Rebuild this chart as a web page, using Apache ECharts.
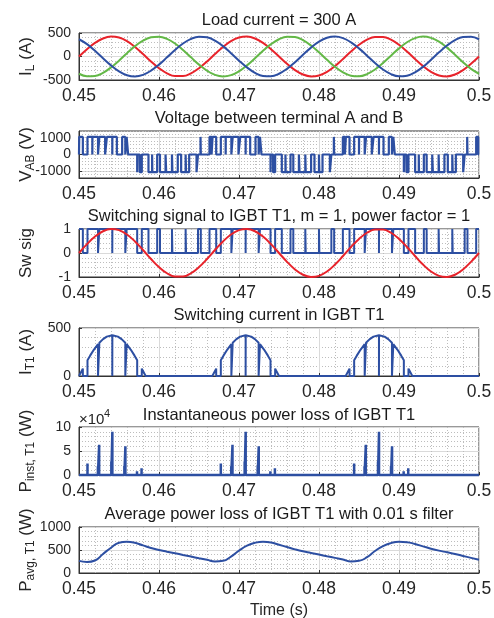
<!DOCTYPE html>
<html><head><meta charset="utf-8">
<script src="https://cdn.jsdelivr.net/npm/echarts@6/dist/echarts.min.js"></script>
<style>html,body{margin:0;padding:0;background:#fff}#c{width:494px;height:618px}</style>
</head><body><div id="c"></div>
<script>
// ---------------- data ----------------
const tStart = 0.45, tEnd = 0.5, sampleStep = 0.001, xInterval = 0.01;

// load currents (A), sampled every 1 ms from 0.45 s
const iA = [0,156,290,384,423,403,327,204,53,-106,-249,-358,-416,-416,-358,-249,-106,53,204,327,403,423,384,290,156,0,-156,-290,-384,-423,-403,-327,-204,-53,106,249,358,416,416,358,249,106,-53,-204,-327,-403,-423,-384,-290,-156,0];
const iB = [-367,-419,-413,-348,-234,-88,71,220,338,408,422,376,277,139,-18,-173,-303,-391,-424,-397,-315,-189,-36,123,263,367,419,413,348,234,88,-71,-220,-338,-408,-422,-376,-277,-139,18,173,303,391,424,397,315,189,36,-123,-263,-367];
const iC = [367,263,123,-36,-189,-315,-398,-424,-391,-302,-173,-18,139,277,376,422,409,338,220,70,-88,-234,-348,-413,-419,-367,-263,-123,36,189,315,398,424,391,302,173,18,-139,-277,-376,-422,-409,-338,-220,-70,88,234,348,413,419,367];

// reference sine of switching plot (same sampling)
const swRef = [0,0.368,0.685,0.905,0.998,0.951,0.771,0.482,0.125,-0.249,-0.588,-0.844,-0.982,-0.982,-0.844,-0.588,-0.249,0.125,0.482,0.771,0.951,0.998,0.905,0.685,0.368,0,-0.368,-0.685,-0.905,-0.998,-0.951,-0.771,-0.482,-0.125,0.249,0.588,0.844,0.982,0.982,0.844,0.588,0.249,-0.125,-0.482,-0.771,-0.951,-0.998,-0.905,-0.685,-0.368,0];

// switching signal T1: starts at 1, toggles at each time
const swInitial = 1;
const swEdges = [0.450482,0.451061,0.452378,0.452545,0.454162,0.454172,0.455788,0.455956,0.457273,0.457851,0.458685,0.459773,0.460122,0.461621,0.461672,0.463328,0.463379,0.464878,0.465227,0.466315,
0.467149,0.467728,0.469045,0.469212,0.470829,0.470839,0.472455,0.472623,0.47394,0.474518,0.475352,0.47644,0.476789,0.478288,0.478339,0.479995,0.480046,0.481545,0.481894,0.482982,
0.483815,0.484394,0.485711,0.485878,0.487495,0.487505,0.489121,0.489289,0.490606,0.491184,0.492018,0.493106,0.493455,0.494954,0.495005,0.496661,0.496712,0.498211,0.49856,0.499648];

// V_AB: level (V) after each switching time
const vabInitial = 0;
const vabTimes = [0.450028,0.450482,0.451061,0.451666,0.451681,0.452378,0.452545,0.453266,0.453488,0.454162,0.454172,0.454732,0.455395,0.455788,0.455956,0.456142,0.457273,0.45731,0.457593,0.457851,0.458685,0.459139,0.459167,0.459773,0.460122,0.460819,0.4609,0.461621,0.461672,0.462345,0.462768,0.463328,0.463379,0.463772,0.464691,0.464878,0.46519,0.465227,0.466315,0.466574,
0.466695,0.467149,0.467728,0.468333,0.468348,0.469045,0.469212,0.469933,0.470155,0.470829,0.470839,0.471399,0.472062,0.472455,0.472623,0.472809,0.47394,0.473977,0.47426,0.474518,0.475352,0.475806,0.475834,0.47644,0.476789,0.477486,0.477567,0.478288,0.478339,0.479012,0.479435,0.479995,0.480046,0.480439,0.481358,0.481545,0.481857,0.481894,0.482982,0.483241,
0.483361,0.483815,0.484394,0.484999,0.485014,0.485711,0.485878,0.486599,0.486821,0.487495,0.487505,0.488065,0.488728,0.489121,0.489289,0.489475,0.490606,0.490643,0.490926,0.491184,0.492018,0.492472,0.4925,0.493106,0.493455,0.494152,0.494233,0.494954,0.495005,0.495678,0.496101,0.496661,0.496712,0.497105,0.498024,0.498211,0.498523,0.49856,0.499648,0.499907];
const vabLevels = [1050,0,1050,0,1050,0,1050,0,1050,0,1050,0,1050,0,1050,0,-1050,0,-1050,0,-1050,0,-1050,0,-1050,0,-1050,0,-1050,0,-1050,0,-1050,0,-1050,0,1050,0,1050,0,
1050,0,1050,0,1050,0,1050,0,1050,0,1050,0,1050,0,1050,0,-1050,0,-1050,0,-1050,0,-1050,0,-1050,0,-1050,0,-1050,0,-1050,0,-1050,0,-1050,0,1050,0,1050,0,
1050,0,1050,0,1050,0,1050,0,1050,0,1050,0,1050,0,1050,0,-1050,0,-1050,0,-1050,0,-1050,0,-1050,0,-1050,0,-1050,0,-1050,0,-1050,0,-1050,0,1050,0,1050,0];

// IGBT T1 current (A)
const itTimes = [0.45,0.450482,0.450482,0.451061,0.451061,0.451389,0.451852,0.452378,0.452378,0.452545,0.452545,0.453009,0.453472,0.454162,0.454162,0.454172,0.454172,0.454861,0.455324,0.455788,0.455788,0.455956,0.455956,0.456481,0.456944,0.457273,0.457273,0.457851,0.457851,0.458333,
0.466667,0.467149,0.467149,0.467728,0.467728,0.468056,0.468519,0.469045,0.469045,0.469212,0.469212,0.469676,0.470139,0.470829,0.470829,0.470839,0.470839,0.471528,0.471991,0.472455,0.472455,0.472623,0.472623,0.473148,0.473611,0.47394,0.47394,0.474518,0.474518,0.475,
0.483333,0.483815,0.483815,0.484394,0.484394,0.484722,0.485185,0.485711,0.485711,0.485878,0.485878,0.486342,0.486805,0.487495,0.487495,0.487505,0.487505,0.488194,0.488657,0.489121,0.489121,0.489289,0.489289,0.489814,0.490277,0.490606,0.490606,0.491184,0.491184,0.491666,
0.5];
const itVals = [0,77,0,0,165,212,273,331,0,0,347,384,410,424,0,0,424,410,384,347,0,0,331,273,212,165,0,0,77,0,
0,77,0,0,165,212,273,331,0,0,347,384,410,424,0,0,424,410,384,347,0,0,331,273,212,165,0,0,77,0,
0,77,0,0,165,212,273,331,0,0,347,384,410,424,0,0,424,410,384,347,0,0,331,273,212,165,0,0,77,0,
0];

// instantaneous loss spikes (x 1e4 W)
const spikeTimes = [0.45045,0.45106,0.45236,0.45252,0.45404,0.45417,0.45567,0.4558,0.45725,0.45782,
0.467117,0.467727,0.469027,0.469187,0.470707,0.470837,0.472337,0.472467,0.473917,0.474487,
0.483783,0.484393,0.485693,0.485853,0.487373,0.487503,0.489003,0.489133,0.490583,0.491153];
const spikeHeights = [0.35,2.4,1.8,6.3,2.8,9.0,1.9,6.0,0.8,1.4,
0.35,2.4,1.8,6.3,2.8,9.0,1.9,6.0,0.8,1.4,
0.35,2.4,1.8,6.3,2.8,9.0,1.9,6.0,0.8,1.4];

// average loss (W), every 1 ms
const pAvg = [264,240,271,414,550,657,680,657,600,543,500,464,429,393,357,321,286,250,264,357,486,593,657,680,664,614,564,514,471,436,400,364,329,293,250,264,343,479,586,650,679,671,629,579,529,486,450,414,371,329,286];

const titles = ["Load current = 300 A","Voltage between terminal A and B","Switching signal to IGBT T1, m = 1, power factor = 1","Switching current in IGBT T1","Instantaneous power loss of IGBT T1","Average power loss of IGBT T1 with 0.01 s filter"];
const yNames = ['{m|I}{s|L}{m| (A)}','{m|V}{s|AB}{m| (V)}','{m|Sw sig}','{m|I}{s|T1}{m| (A)}','{m|P}{s|inst, T1}{m| (W)}','{m|P}{s|avg, T1}{m| (W)}'];
const yRanges = [[-500,500,500],[-1400,1400,null],[-1,1,1],[0,500,500],[0,10,5],[0,1000,500]];
const vabTicks = [-1000,0,1000];

// ---------------- build ----------------
const F = '"Liberation Sans", Arial, Helvetica, sans-serif';
const TXT = '#262626', MAJ = '#dadada', MIN = '#bdbdbd';
const BLUE = '#2d4fa2', RED = '#e8232b', GREEN = '#63b847';
const gridTops = [33,131,229,328,427,527], gridHeights = [47,47,48,48,48,46];
const GL = 79, GW = 400;

const sampleTimes = iA.map((_, k) => +(tStart + k * sampleStep).toFixed(4));
const pair = arr => arr.map((v, k) => [sampleTimes[k], v]);

function toggleSteps(edges, init) {
  const pts = [[tStart, init]]; let cur = init;
  edges.forEach(t => { pts.push([t, cur]); cur = 1 - cur; pts.push([t, cur]); });
  pts.push([tEnd, cur]); return pts;
}
function levelSteps(times, levels, init) {
  const pts = [[tStart, init]]; let cur = init;
  times.forEach((t, i) => { pts.push([t, cur]); cur = levels[i]; pts.push([t, cur]); });
  pts.push([tEnd, cur]); return pts;
}
function spikes(times, heights) {
  const pts = [[tStart, 0]];
  times.forEach((t, i) => { pts.push([t, 0], [t, heights[i]], [t, 0]); });
  pts.push([tEnd, 0]); return pts;
}

const grids = gridTops.map((t, i) => ({left: GL, width: GW, top: t, height: gridHeights[i], show: true,
  borderColor: '#333', borderWidth: 1, backgroundColor: '#fff', containLabel: false, outerBoundsMode: 'none'}));

const xAxes = gridTops.map((_, i) => ({
  gridIndex: i, type: 'value', min: tStart, max: tEnd, interval: xInterval,
  axisLine: {show: true, onZero: false, lineStyle: {color: '#333', width: 1}},
  axisTick: {show: true, inside: true, length: 3, lineStyle: {color: '#333'}},
  axisLabel: {fontFamily: F, fontSize: 17.5, color: TXT, margin: 7, showMinLabel: true, showMaxLabel: true,
    formatter: v => String(+v.toFixed(2))},
  splitLine: {show: true, lineStyle: {color: MAJ, width: 1}},
  minorTick: {show: true, splitNumber: 5, length: 0, lineStyle: {color: 'rgba(0,0,0,0)'}},
  minorSplitLine: {show: true, lineStyle: {color: MIN, width: 1, type: [1, 2]}}
}));

const nameStyle = {fontFamily: F, color: TXT, rich: {
  m: {fontFamily: F, fontSize: 17, color: TXT, lineHeight: 22},
  s: {fontFamily: F, fontSize: 12, color: TXT, lineHeight: 12, verticalAlign: 'bottom'}
}};

const yAxes = gridTops.map((_, i) => {
  const [mn, mx, iv] = yRanges[i];
  const ax = {
    gridIndex: i, type: 'value', min: mn, max: mx,
    name: yNames[i], nameLocation: 'middle', nameRotate: 90, nameGap: 42, nameMoveOverlap: false,
    nameTextStyle: nameStyle,
    axisLine: {show: true, onZero: false, lineStyle: {color: '#333', width: 1}},
    axisTick: {show: true, inside: true, length: 3, lineStyle: {color: '#333'}},
    axisLabel: {fontFamily: F, fontSize: 14, color: TXT, margin: 8, formatter: v => String(v)},
    splitLine: {show: true, lineStyle: {color: MAJ, width: 1}}
  };
  if (iv !== null) {
    ax.interval = iv;
    ax.minorTick = {show: true, splitNumber: 5, length: 0, lineStyle: {color: 'rgba(0,0,0,0)'}};
    ax.minorSplitLine = {show: true, lineStyle: {color: MIN, width: 1, type: [1, 2]}};
  } else {
    ax.axisLabel.customValues = vabTicks;
    ax.axisTick.customValues = vabTicks;
  }
  return ax;
});
// dotted minor lines for the V_AB panel
yAxes.push({gridIndex: 1, type: 'value', min: -1400, max: 1400, interval: 200, position: 'left',
  axisLine: {show: false}, axisTick: {show: false}, axisLabel: {show: false},
  splitLine: {show: true, lineStyle: {color: MIN, width: 1, type: [1, 2]}}, z: 0});

const line = (xi, yi, data, color, extra) => Object.assign({
  type: 'line', xAxisIndex: xi, yAxisIndex: yi, data, showSymbol: false, symbol: 'none',
  lineStyle: {color, width: 2}, itemStyle: {color}, clip: false, silent: true, animation: false
}, extra || {});

const series = [
  line(0, 0, pair(iA), RED, {smooth: 0.4}),
  line(0, 0, pair(iB), GREEN, {smooth: 0.4}),
  line(0, 0, pair(iC), BLUE, {smooth: 0.4}),
  line(1, 1, levelSteps(vabTimes, vabLevels, vabInitial), BLUE, {lineStyle: {color: BLUE, width: 2.2}}),
  line(2, 2, toggleSteps(swEdges, swInitial), BLUE),
  line(2, 2, pair(swRef), RED, {smooth: 0.4}),
  line(3, 3, itTimes.map((t, i) => [t, itVals[i]]), BLUE),
  line(4, 4, spikes(spikeTimes, spikeHeights), BLUE, {lineStyle: {color: BLUE, width: 2.5}}),
  line(5, 5, pair(pAvg), BLUE, {smooth: 0.5})
];

const titleY = [20, 118, 216.5, 315, 415, 514];
const graphics = titles.map((t, i) => ({type: 'text', x: GL + GW / 2, y: titleY[i], silent: true,
  style: {text: t, fontFamily: F, fontSize: 16.5, fill: '#1a1a1a', align: 'center', verticalAlign: 'middle'}}));
graphics.push({type: 'text', x: GL + GW / 2, y: 611, silent: true,
  style: {text: 'Time (s)', fontFamily: F, fontSize: 16, fill: TXT, align: 'center', verticalAlign: 'middle'}});
graphics.push({type: 'text', x: 79, y: 420, silent: true,
  style: {text: '×10', fontFamily: F, fontSize: 15, fill: TXT, align: 'left', verticalAlign: 'middle'}});
graphics.push({type: 'text', x: 104, y: 414, silent: true,
  style: {text: '4', fontFamily: F, fontSize: 11, fill: TXT, align: 'left', verticalAlign: 'middle'}});

const chart = echarts.init(document.getElementById('c'), null, {renderer: 'canvas'});
chart.setOption({
  animation: false, backgroundColor: '#fff',
  grid: grids, xAxis: xAxes, yAxis: yAxes, series, graphic: graphics
});
</script></body></html>
